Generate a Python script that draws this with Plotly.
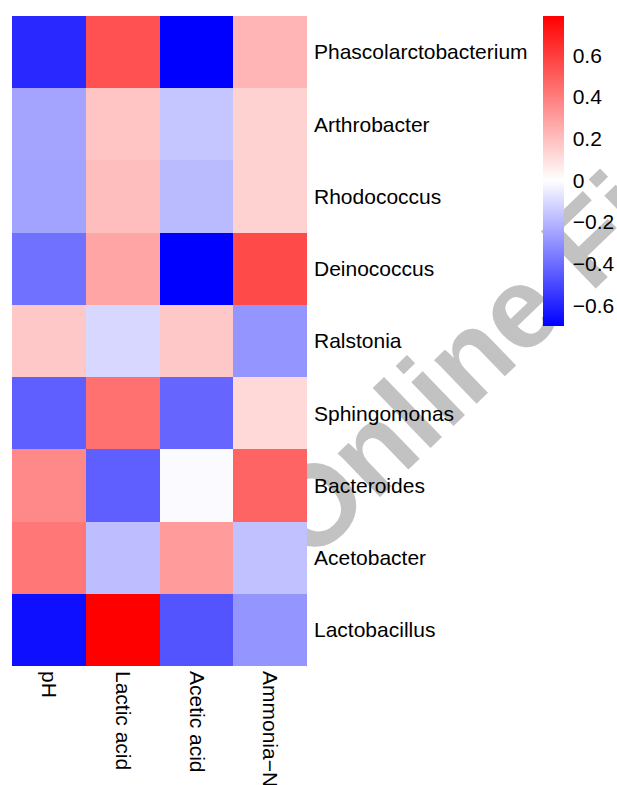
import plotly.graph_objects as go

# Correlation heatmap: bacterial genera vs. fermentation parameters
genera = ["Phascolarctobacterium", "Arthrobacter", "Rhodococcus", "Deinococcus",
          "Ralstonia", "Sphingomonas", "Bacteroides", "Acetobacter", "Lactobacillus"]
params = ["pH", "Lactic acid", "Acetic acid", "Ammonia\u2212N"]

ph = [-0.59, -0.25, -0.255, -0.39, 0.17, -0.44, 0.37, 0.42, -0.66]
lactic = [0.54, 0.18, 0.20, 0.28, -0.11, 0.44, -0.44, -0.18, 0.79]
acetic = [-0.70, -0.16, -0.19, -0.70, 0.17, -0.42, -0.01, 0.31, -0.47]
ammonia = [0.23, 0.14, 0.14, 0.56, -0.29, 0.12, 0.48, -0.17, -0.29]

cbar_vals = [0.6, 0.4, 0.2, 0, -0.2, -0.4, -0.6]
cbar_text = ["0.6", "0.4", "0.2", "0", "\u22120.2", "\u22120.4", "\u22120.6"]

columns = [ph, lactic, acetic, ammonia]
z = [[col[i] for col in columns] for i in range(len(genera))]

zmin = min(min(c) for c in columns)
zmax = max(max(c) for c in columns)
mid = (0 - zmin) / (zmax - zmin)

FONT = "Liberation Sans, Arial, Helvetica, sans-serif"

fig = go.Figure()
fig.add_trace(go.Heatmap(
    z=z, x=params, y=genera,
    zmin=zmin, zmax=zmax,
    colorscale=[[0, "rgb(0,0,255)"], [mid, "rgb(255,255,255)"], [1, "rgb(255,0,0)"]],
    xgap=0, ygap=0,
    colorbar=dict(
        x=1.8, xanchor="left", xpad=0,
        y=1, yanchor="top", ypad=0,
        len=310, lenmode="pixels",
        thickness=21, thicknessmode="pixels",
        outlinewidth=0,
        ticks="outside", ticklen=5, tickcolor="rgba(0,0,0,0)",
        tickvals=cbar_vals, ticktext=cbar_text,
        tickfont=dict(family=FONT, size=21, color="black"),
    ),
))

# Faint watermark text drawn behind the heatmap
fig.add_shape(
    type="rect", xref="paper", yref="paper",
    x0=1.562, x1=1.776, y0=0.526, y1=0.582,
    line=dict(width=0), fillcolor="rgba(0,0,0,0)",
    layer="below",
    label=dict(text="Online First", textangle=-44, textposition="middle center",
               font=dict(family=FONT, size=115, color="#c2c2c2", weight="bold")),
)

fig.update_layout(
    width=617, height=785,
    margin=dict(l=12, r=310, t=16, b=119, autoexpand=False),
    paper_bgcolor="white", plot_bgcolor="white",
    font=dict(family=FONT, size=21, color="black"),
    xaxis=dict(side="bottom", tickangle=90, showgrid=False, zeroline=False,
               showline=False, ticks="", automargin=False, ticklabelstandoff=4,
               tickfont=dict(size=21, color="black")),
    yaxis=dict(side="right", autorange="reversed", showgrid=False, zeroline=False,
               showline=False, ticks="", automargin=False, ticklabelstandoff=6,
               tickfont=dict(size=21, color="black")),
)

fig.write_html("out.html")
